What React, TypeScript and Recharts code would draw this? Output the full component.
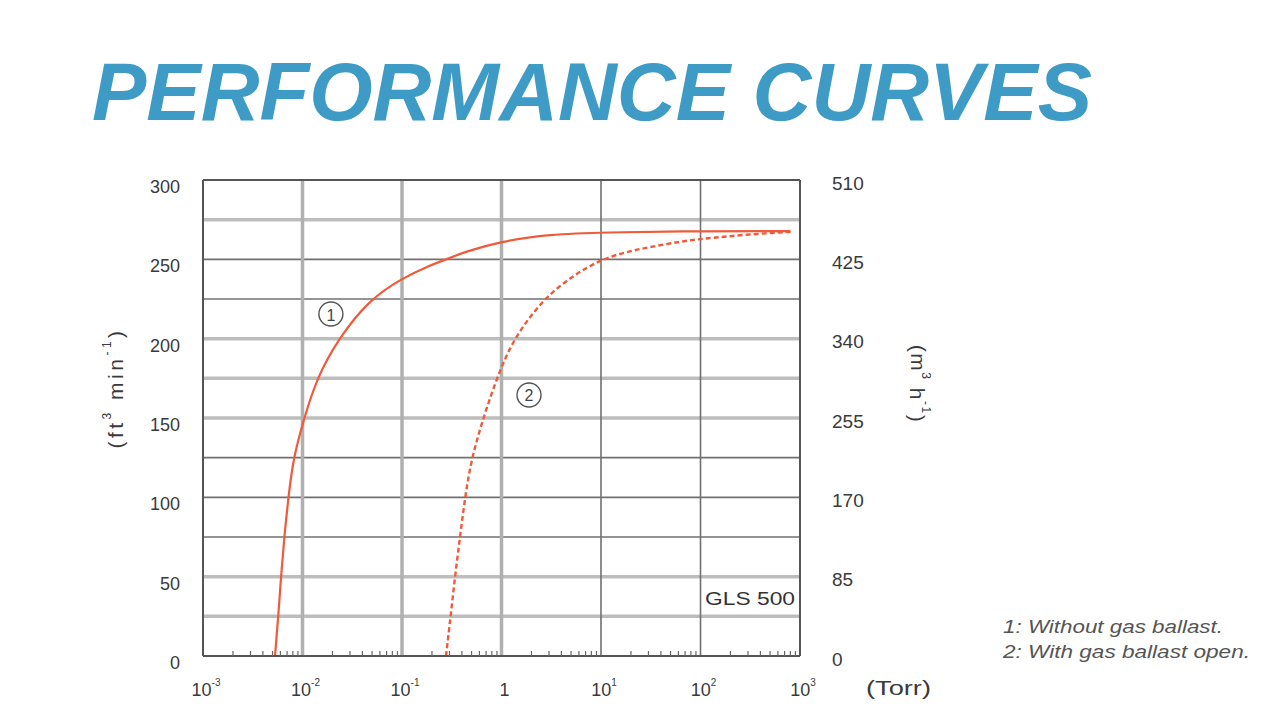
import React from 'react';
import { LineChart, Line, XAxis, YAxis, ReferenceLine, ReferenceDot } from 'recharts';

// pressure axis (Torr, log)
const torrTicks = [0.001, 0.01, 0.1, 1, 10, 100, 1000];
const torrBase = ['10', '10', '10', '1', '10', '10', '10'];
const torrExp = ['-3', '-2', '-1', '', '1', '2', '3'];
const minorSteps = [2, 3, 4, 5, 6, 7, 8, 9];

// pumping speed axes
const cfmTicks = [0, 50, 100, 150, 200, 250, 300];
const m3hTicks = [0, 85, 170, 255, 340, 425, 510];

// grid lines (the scan shows two kinds)
const lightGridCfm = [25, 50, 150, 175, 200, 275];
const darkGridCfm = [75, 100, 125, 225, 250];
const lightGridTorr = [0.01, 0.1, 1];
const darkGridTorr = [10, 100];

// curve 1: without gas ballast
const noBallastTorr = [0.00529, 0.00571, 0.00608, 0.00656, 0.00721, 0.00809, 0.0104, 0.0139, 0.0229, 0.0477, 0.1, 0.191, 0.281, 0.413, 1, 3.07, 10, 100, 800];
const noBallastCfm = [0, 25, 50, 75, 100, 125, 150, 175, 200, 225, 238, 246.3, 250, 254.4, 261.5, 265.7, 267, 267.8, 267.8];

// curve 2: with gas ballast open
const ballastTorr = [0.277, 0.308, 0.341, 0.383, 0.43, 0.501, 0.657, 0.894, 1.315, 2.63, 4.88, 9.77, 21.1, 67, 100, 291, 826];
const ballastCfm = [0, 25, 50, 75, 100, 125, 150, 175, 200, 225, 238.3, 250, 256, 261.5, 262.8, 265.7, 267.4];

const legendLines = ['1: Without gas ballast.', '2: With gas ballast open.'];

const noBallast = noBallastTorr.map((p, i) => ({ p, q: noBallastCfm[i] }));
const ballast = ballastTorr.map((p, i) => ({ p, q: ballastCfm[i] }));
const allTorrTicks = [
  ...torrTicks,
  ...torrTicks.slice(0, -1).flatMap((d) => minorSteps.map((m) => m * d)),
].sort((a, b) => a - b);

const FONT = '"Liberation Sans", Arial, sans-serif';
const TEXT = '#3a3a3a';
const RED = '#ef5a3a';

const XTick = (props: any) => {
  const { x, y, payload } = props;
  const i = torrTicks.indexOf(payload.value);
  if (i < 0) {
    return <line x1={x} x2={x} y1={y} y2={y - 5} stroke="#666" strokeWidth={1.2} />;
  }
  return (
    <text x={x + 3} y={y + 40} textAnchor="middle" fontSize={18} fill={TEXT} fontFamily={FONT}>
      {torrBase[i]}
      {torrExp[i] ? (
        <tspan dy={-10} fontSize={10}>
          {torrExp[i]}
        </tspan>
      ) : null}
    </text>
  );
};

const LeftTick = (props: any) => {
  const { x, y, payload } = props;
  return (
    <text x={x} y={y + 7} textAnchor="end" dominantBaseline="central" fontSize={18} fill={TEXT} fontFamily={FONT}>
      {payload.value}
    </text>
  );
};

const RightTick = (props: any) => {
  const { x, y, payload } = props;
  return (
    <text x={x} y={y + 3} textAnchor="start" dominantBaseline="central" fontSize={19} fill={TEXT} fontFamily={FONT}>
      {payload.value}
    </text>
  );
};

const circled = (label: string) => (props: any) => (
  <g>
    <circle cx={props.cx} cy={props.cy} r={12} fill="#fff" stroke="#555" strokeWidth={1.4} />
    <text
      x={props.cx}
      y={props.cy + 1}
      textAnchor="middle"
      dominantBaseline="central"
      fontSize={16}
      fill="#444"
      fontFamily={FONT}
    >
      {label}
    </text>
  </g>
);

const modelTag = (props: any) => (
  <text
    x={props.cx - 5}
    y={props.cy}
    textAnchor="end"
    dominantBaseline="central"
    fontSize={19}
    fill="#333"
    fontFamily={FONT}
    textLength={90}
    lengthAdjust="spacingAndGlyphs"
  >
    GLS 500
  </text>
);

const App = () => (
  <div style={{ position: 'absolute', left: 0, top: 0, width: 1280, height: 715, background: '#fff' }}>
    <LineChart width={1280} height={715} margin={{ top: 180, right: 380, bottom: 9, left: 0 }}>
      <XAxis
        dataKey="p"
        type="number"
        scale="log"
        domain={[0.001, 1000]}
        ticks={allTorrTicks}
        interval={0}
        allowDataOverflow
        height={50}
        tickSize={0}
        tickMargin={0}
        tickLine={false}
        axisLine={{ stroke: '#555', strokeWidth: 2 }}
        tick={<XTick />}
      />
      <YAxis
        yAxisId="left"
        type="number"
        domain={[0, 300]}
        ticks={cfmTicks}
        interval={0}
        allowDataOverflow
        width={203}
        tickSize={0}
        tickMargin={23}
        tickLine={false}
        axisLine={{ stroke: '#555', strokeWidth: 2 }}
        tick={<LeftTick />}
      />
      <YAxis
        yAxisId="right"
        orientation="right"
        type="number"
        domain={[0, 510]}
        ticks={m3hTicks}
        interval={0}
        allowDataOverflow
        width={100}
        tickSize={0}
        tickMargin={32}
        tickLine={false}
        axisLine={{ stroke: '#555', strokeWidth: 2 }}
        tick={<RightTick />}
      />
      {lightGridCfm.map((v) => (
        <ReferenceLine key={'lc' + v} yAxisId="left" y={v} stroke="#bdbdbd" strokeWidth={3.5} />
      ))}
      {darkGridCfm.map((v) => (
        <ReferenceLine key={'dc' + v} yAxisId="left" y={v} stroke="#707070" strokeWidth={1.6} />
      ))}
      {lightGridTorr.map((v) => (
        <ReferenceLine key={'lt' + v} yAxisId="left" x={v} stroke="#b0b0b0" strokeWidth={3.5} />
      ))}
      {darkGridTorr.map((v) => (
        <ReferenceLine key={'dt' + v} yAxisId="left" x={v} stroke="#707070" strokeWidth={1.6} />
      ))}
      <ReferenceLine yAxisId="left" y={300} stroke="#555" strokeWidth={2} />
      <Line
        yAxisId="left"
        data={noBallast}
        dataKey="q"
        type="basis"
        stroke={RED}
        strokeWidth={2.2}
        dot={false}
        isAnimationActive={false}
      />
      <Line
        yAxisId="left"
        data={ballast}
        dataKey="q"
        type="basis"
        stroke={RED}
        strokeWidth={2.4}
        strokeDasharray="5 3"
        dot={false}
        isAnimationActive={false}
      />
      <ReferenceDot yAxisId="left" x={0.0193} y={215.5} shape={circled('1')} />
      <ReferenceDot yAxisId="left" x={1.89} y={164.5} shape={circled('2')} />
      <ReferenceDot yAxisId="left" x={1000} y={36} shape={modelTag} />
    </LineChart>
    <svg
      width={1280}
      height={715}
      style={{ position: 'absolute', left: 0, top: 0, pointerEvents: 'none' }}
      fontFamily={FONT}
    >
      <text
        x={92}
        y={120}
        fontSize={81}
        fontWeight="bold"
        fontStyle="italic"
        fill="#3d9bc6"
        textLength={1000}
        lengthAdjust="spacingAndGlyphs"
      >
        PERFORMANCE CURVES
      </text>
      <g transform="translate(115,388) rotate(-90)">
        <text
          x={0}
          y={0}
          textAnchor="middle"
          dominantBaseline="central"
          fontSize={21}
          letterSpacing={3.5}
          fill={TEXT}
        >
          (ft
          <tspan dy={-8} fontSize={12}>
            3
          </tspan>
          <tspan dy={8}> min</tspan>
          <tspan dy={-8} fontSize={12}>
            -1
          </tspan>
          <tspan dy={8}>)</tspan>
        </text>
      </g>
      <g transform="translate(918,384) rotate(90)">
        <text
          x={0}
          y={0}
          textAnchor="middle"
          dominantBaseline="central"
          fontSize={21}
          letterSpacing={1.5}
          fill={TEXT}
        >
          (m
          <tspan dy={-8} fontSize={12}>
            3
          </tspan>
          <tspan dy={8}> h</tspan>
          <tspan dy={-8} fontSize={12}>
            -1
          </tspan>
          <tspan dy={8}>)</tspan>
        </text>
      </g>
      <text x={866} y={695} fontSize={20} fill={TEXT} textLength={65} lengthAdjust="spacingAndGlyphs">
        (Torr)
      </text>
      {legendLines.map((t, i) => (
        <text
          key={t}
          x={1003}
          y={633 + i * 25}
          fontSize={19}
          fontStyle="italic"
          fill="#555"
          textLength={i === 0 ? 220 : 247}
          lengthAdjust="spacingAndGlyphs"
        >
          {t}
        </text>
      ))}
    </svg>
  </div>
);

export default App;
